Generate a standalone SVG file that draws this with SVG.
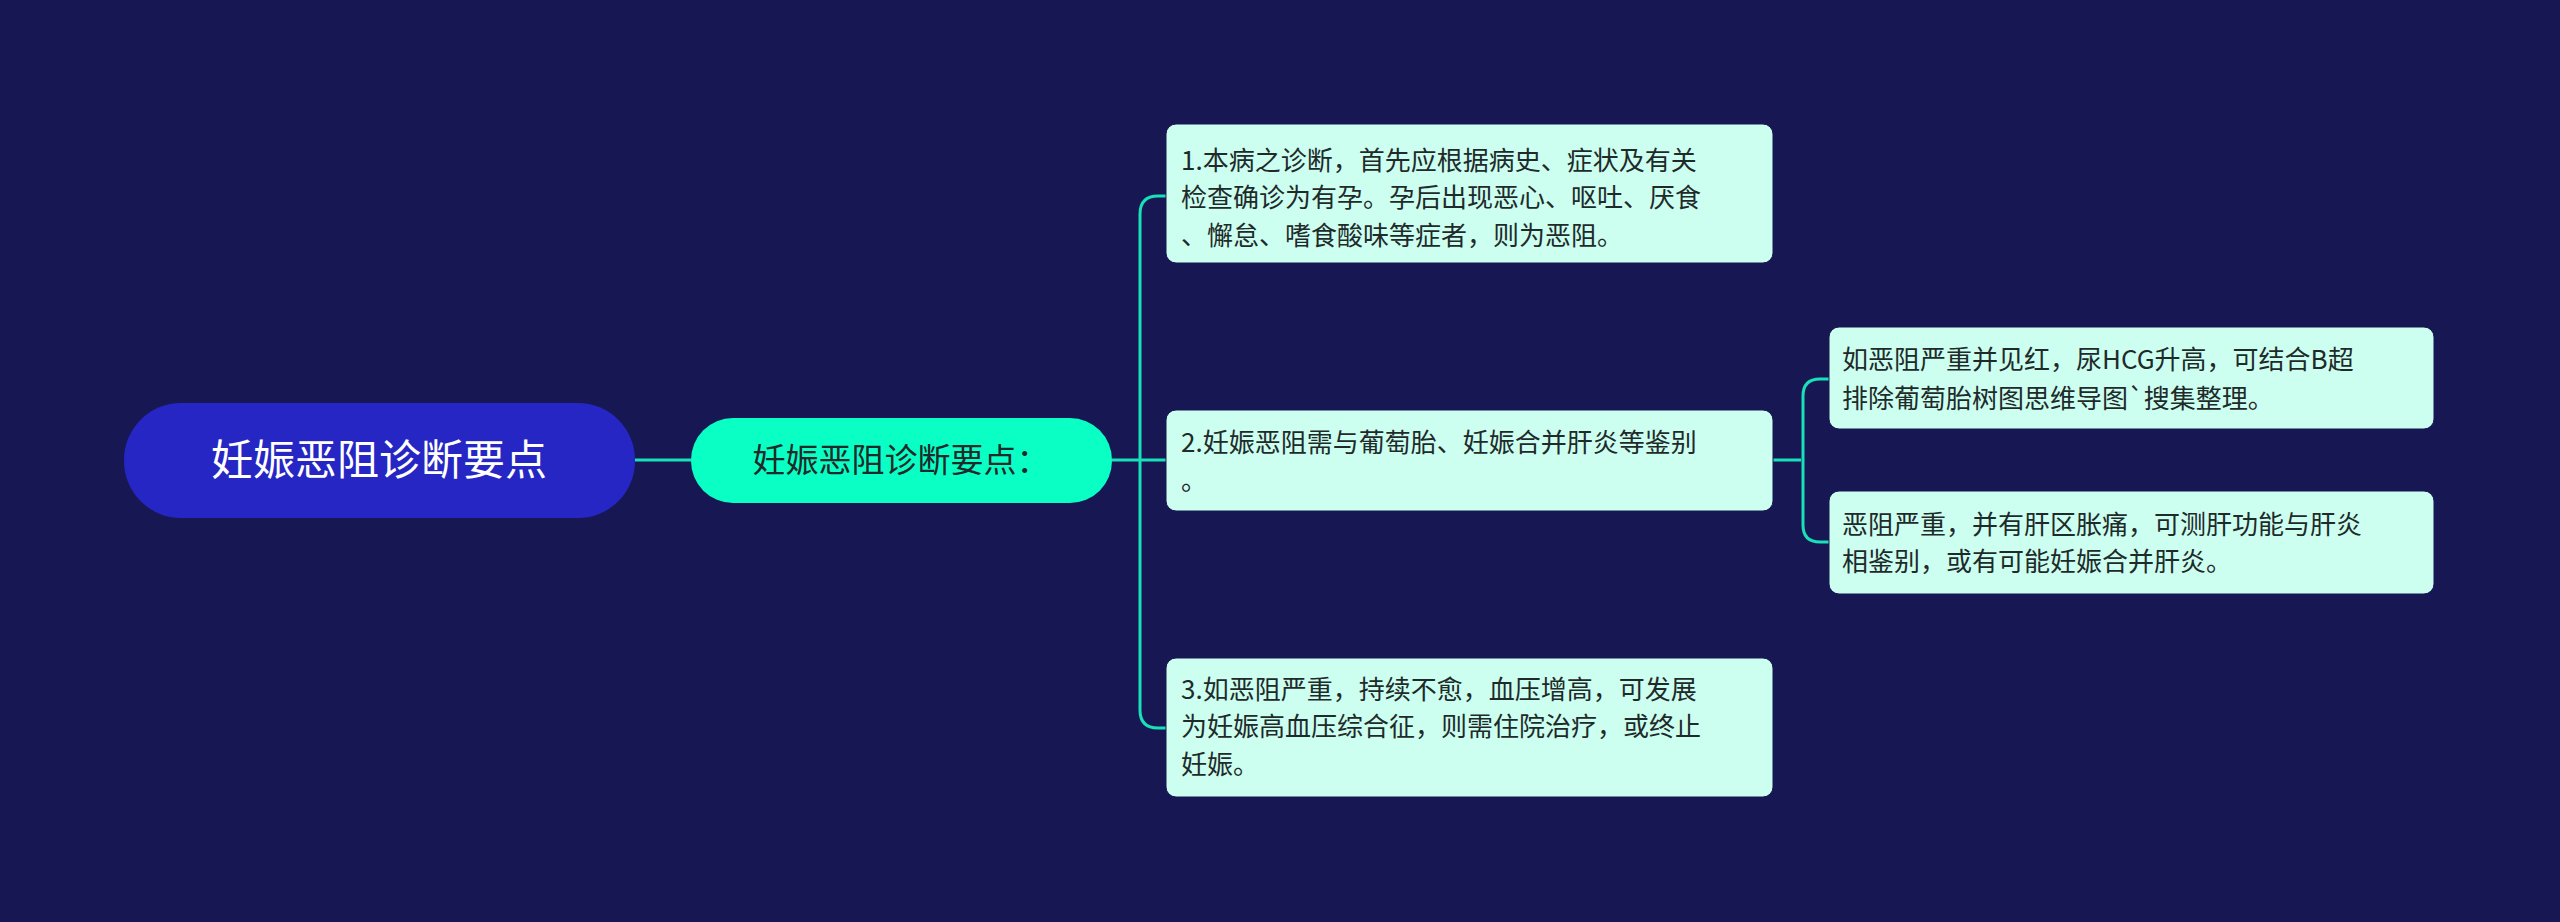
<svg xmlns="http://www.w3.org/2000/svg" width="2560" height="922" viewBox="0 0 2560 922">
<style>
.t{font-family:"Noto Sans CJK SC","Noto Sans",sans-serif;font-size:26px;fill:#1f2a2a}
.b{fill:#ccfff0;stroke:#171853;stroke-width:1}
.c{fill:none;stroke:#19e0b8;stroke-width:3}
</style>
<rect width="2560" height="922" fill="#171853"/>
<g id="connectors">
<path class="c" d="M635 460H691"/>
<path class="c" d="M1112 460H1166"/>
<path class="c" d="M1166 196H1158Q1140 196 1140 214V710Q1140 728 1158 728H1166"/>
<path class="c" d="M1773 460H1801"/>
<path class="c" d="M1829 379H1820Q1803 379 1803 396V525Q1803 542 1820 542H1829"/>
</g>
<g id="root"><rect x="124" y="403" width="511" height="115" rx="57" fill="#2526c4"/>
<text x="379" y="475" text-anchor="middle" font-family="Noto Sans CJK SC,sans-serif" font-size="42" fill="#fff">妊娠恶阻诊断要点</text></g>
<g id="sub"><rect x="691" y="418" width="421" height="85" rx="42" fill="#0affc4"/>
<text x="901" y="472" text-anchor="middle" font-family="Noto Sans CJK SC,sans-serif" font-size="33" fill="#1f2a2a">妊娠恶阻诊断要点：</text></g>
<g id="n1"><rect class="b" x="1166" y="124" width="607" height="139" rx="10"/>
<text class="t"><tspan x="1181" y="170">1.本病之诊断，首先应根据病史、症状及有关</tspan><tspan x="1181" y="207">检查确诊为有孕。孕后出现恶心、呕吐、厌食</tspan><tspan x="1181" y="245">、懈怠、嗜食酸味等症者，则为恶阻。</tspan></text></g>
<g id="n2"><rect class="b" x="1166" y="410" width="607" height="101" rx="10"/>
<text class="t"><tspan x="1181" y="452">2.妊娠恶阻需与葡萄胎、妊娠合并肝炎等鉴别</tspan><tspan x="1181" y="490">。</tspan></text></g>
<g id="n3"><rect class="b" x="1166" y="658" width="607" height="139" rx="10"/>
<text class="t"><tspan x="1181" y="699">3.如恶阻严重，持续不愈，血压增高，可发展</tspan><tspan x="1181" y="736">为妊娠高血压综合征，则需住院治疗，或终止</tspan><tspan x="1181" y="774">妊娠。</tspan></text></g>
<g id="n4"><rect class="b" x="1829" y="327" width="605" height="102" rx="10"/>
<text class="t"><tspan x="1842" y="369">如恶阻严重并见红，尿HCG升高，可结合B超</tspan><tspan x="1842" y="408">排除葡萄胎树图思维导图`搜集整理。</tspan></text></g>
<g id="n5"><rect class="b" x="1829" y="491" width="605" height="103" rx="10"/>
<text class="t"><tspan x="1842" y="534">恶阻严重，并有肝区胀痛，可测肝功能与肝炎</tspan><tspan x="1842" y="571">相鉴别，或有可能妊娠合并肝炎。</tspan></text></g>
</svg>
